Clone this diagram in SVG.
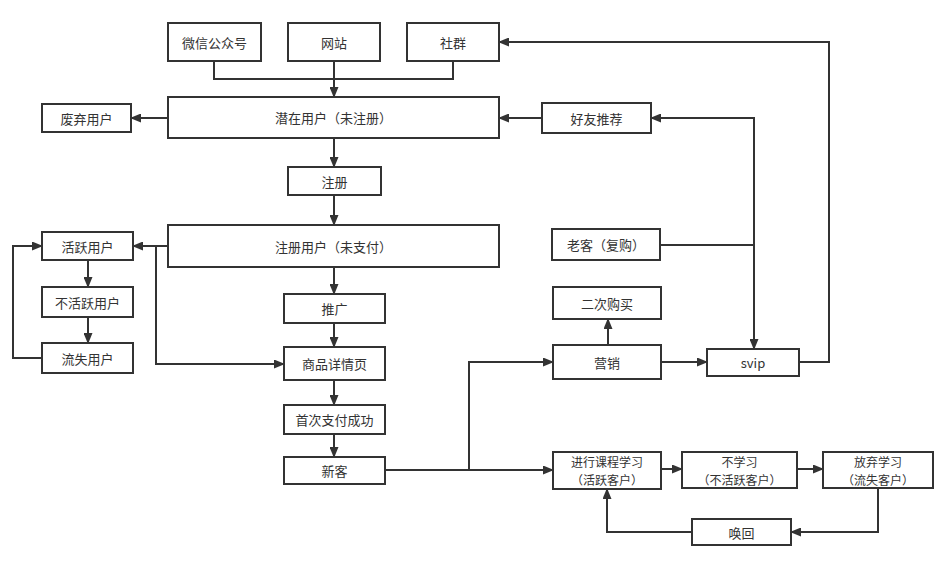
<svg xmlns="http://www.w3.org/2000/svg" width="948" height="569" viewBox="0 0 948 569">
<style>
.n rect{fill:#fff;stroke:#333;stroke-width:2}
.n text{font-family:"Noto Sans CJK SC","Liberation Sans",sans-serif;font-size:13px;fill:#333;text-anchor:middle;dominant-baseline:central}
.n text.s{font-size:12px}
.e path{fill:none;stroke:#333;stroke-width:2}
.a{marker-end:url(#arr)}
</style>
<defs>
<marker id="arr" markerUnits="userSpaceOnUse" markerWidth="11" markerHeight="9" refX="10" refY="4.5" orient="auto">
<path d="M0,0 L11,4.5 L0,9 z" fill="#333"/>
</marker>
</defs>
<rect width="948" height="569" fill="#fff"/>
<g class="e">
<path d="M214,61 V79 H334"/>
<path d="M453,61 V79 H334"/>
<path class="a" d="M334,61 V97"/>
<path class="a" d="M168,118 H131"/>
<path class="a" d="M334,138 V167"/>
<path class="a" d="M334,195 V225"/>
<path class="a" d="M168,246 H133"/>
<path class="a" d="M156,246 V364 H284"/>
<path class="a" d="M334,267 V294"/>
<path class="a" d="M334,323 V347"/>
<path class="a" d="M334,380 V405"/>
<path class="a" d="M334,434 V457"/>
<path class="a" d="M88,260 V287"/>
<path class="a" d="M88,317 V343"/>
<path class="a" d="M42,358 H13 V246 H42"/>
<path class="a" d="M385,470 H553"/>
<path class="a" d="M469,470 V362 H553"/>
<path class="a" d="M608,345 V319"/>
<path class="a" d="M662,362 H707"/>
<path class="a" d="M660,245 H754 V118 H651"/>
<path class="a" d="M754,245 V349"/>
<path class="a" d="M542,118 H499"/>
<path class="a" d="M799,362 H829 V42 H499"/>
<path class="a" d="M661,469 H682"/>
<path class="a" d="M797,469 H823"/>
<path class="a" d="M878,488 V532 H791"/>
<path class="a" d="M692,532 H607 V489"/>
</g>
<g id="wechat" class="n"><rect x="168" y="23" width="93" height="38"/><text x="214.5" y="42">微信公众号</text></g>
<g id="website" class="n"><rect x="288" y="23" width="92" height="38"/><text x="334" y="42">网站</text></g>
<g id="community" class="n"><rect x="407" y="23" width="92" height="38"/><text x="453" y="42">社群</text></g>
<g id="potential" class="n"><rect x="168" y="97" width="331" height="41"/><text x="333.5" y="117.5">潜在用户（未注册）</text></g>
<g id="abandoned" class="n"><rect x="42" y="104" width="89" height="28"/><text x="86.5" y="118">废弃用户</text></g>
<g id="register" class="n"><rect x="288" y="167" width="93" height="28"/><text x="334.5" y="181">注册</text></g>
<g id="registered" class="n"><rect x="168" y="225" width="331" height="42"/><text x="333.5" y="246">注册用户（未支付）</text></g>
<g id="active" class="n"><rect x="42" y="232" width="91" height="28"/><text x="87.5" y="246">活跃用户</text></g>
<g id="inactive" class="n"><rect x="42" y="287" width="91" height="30"/><text x="87.5" y="302">不活跃用户</text></g>
<g id="lost" class="n"><rect x="42" y="343" width="91" height="30"/><text x="87.5" y="358">流失用户</text></g>
<g id="promote" class="n"><rect x="284" y="294" width="101" height="29"/><text x="334.5" y="308.5">推广</text></g>
<g id="detail" class="n"><rect x="284" y="347" width="101" height="33"/><text x="334.5" y="363.5">商品详情页</text></g>
<g id="firstpay" class="n"><rect x="284" y="405" width="101" height="29"/><text x="334.5" y="419.5">首次支付成功</text></g>
<g id="newcustomer" class="n"><rect x="284" y="457" width="101" height="27"/><text x="334.5" y="470.5">新客</text></g>
<g id="referral" class="n"><rect x="542" y="103" width="109" height="30"/><text x="596.5" y="118">好友推荐</text></g>
<g id="oldcustomer" class="n"><rect x="552" y="229" width="108" height="31"/><text x="606" y="244.5">老客（复购）</text></g>
<g id="secondbuy" class="n"><rect x="553" y="287" width="108" height="32"/><text x="607" y="303">二次购买</text></g>
<g id="marketing" class="n"><rect x="553" y="345" width="108" height="34"/><text x="607" y="362">营销</text></g>
<g id="svip" class="n"><rect x="707" y="349" width="92" height="27"/><text x="753" y="362.5">svip</text></g>
<g id="learning" class="n"><rect x="553" y="452" width="108" height="37"/><text class="s" x="607" y="461.5">进行课程学习</text><text class="s" x="607" y="479">（活跃客户）</text></g>
<g id="notlearning" class="n"><rect x="682" y="452" width="115" height="36"/><text class="s" x="739.5" y="461.5">不学习</text><text class="s" x="739.5" y="479">（不活跃客户）</text></g>
<g id="giveup" class="n"><rect x="823" y="452" width="110" height="36"/><text class="s" x="878" y="461.5">放弃学习</text><text class="s" x="878" y="479">（流失客户）</text></g>
<g id="recall" class="n"><rect x="692" y="519" width="99" height="26"/><text x="741.5" y="532">唤回</text></g>
</svg>
